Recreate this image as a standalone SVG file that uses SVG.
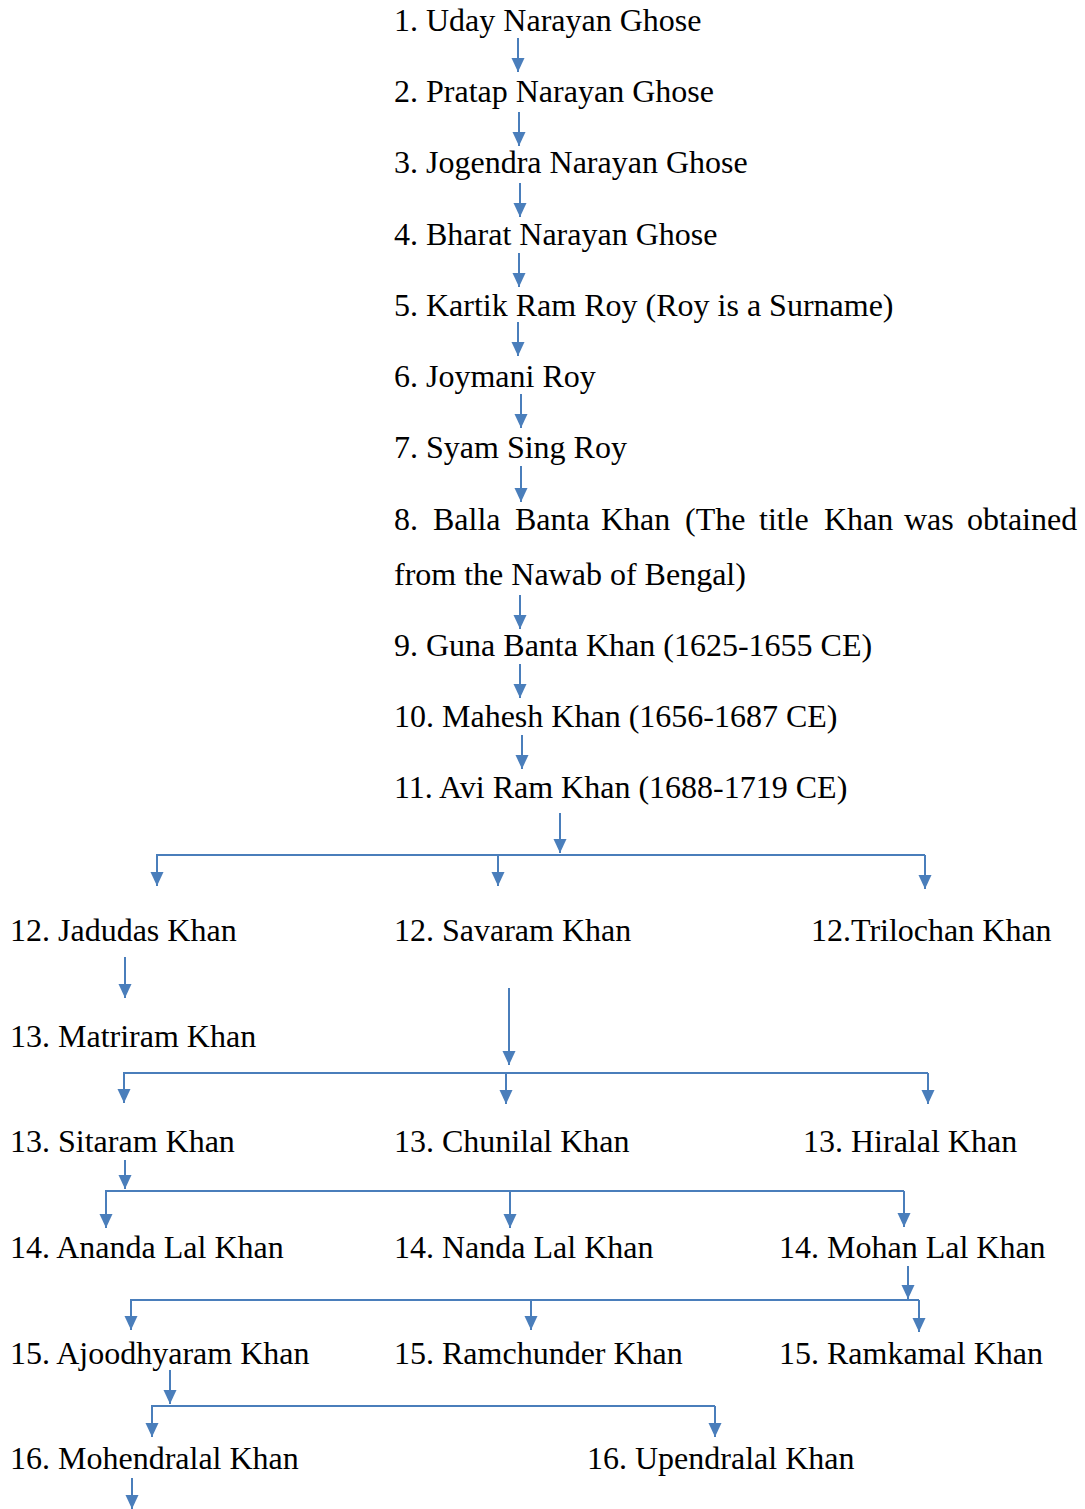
<svg xmlns="http://www.w3.org/2000/svg" width="1085" height="1509" viewBox="0 0 1085 1509">
<style>
text{font-family:"Liberation Serif","Times New Roman",serif;font-size:32px;fill:#000}
.c{stroke:#4a7ebb;stroke-width:2;fill:none}
.a{marker-end:url(#ah)}
</style>
<defs>
<marker id="ah" markerUnits="userSpaceOnUse" markerWidth="14" markerHeight="14" refX="14" refY="6.5" orient="auto">
<path d="M0,0 L14,6.5 L0,13 z" fill="#4a7ebb"/>
</marker>
</defs>
<rect width="1085" height="1509" fill="#fff"/>
<g id="connectors">
<path class="c a" d="M518,38 V72"/>
<path class="c a" d="M519,112 V146"/>
<path class="c a" d="M520,183 V217"/>
<path class="c a" d="M519,253 V287"/>
<path class="c a" d="M518,322 V356"/>
<path class="c a" d="M521,394 V428"/>
<path class="c a" d="M521,466 V502"/>
<path class="c a" d="M520,595 V629"/>
<path class="c a" d="M520,664 V698"/>
<path class="c a" d="M522,735 V769"/>
<path class="c a" d="M560,813 V853"/>
<path class="c" d="M156,855 H925"/>
<path class="c a" d="M157,855 V886"/>
<path class="c a" d="M498,855 V886"/>
<path class="c a" d="M925,855 V889"/>
<path class="c a" d="M125,957 V998"/>
<path class="c a" d="M509,988 V1065"/>
<path class="c" d="M123,1073 H928"/>
<path class="c a" d="M124,1073 V1103"/>
<path class="c a" d="M506,1073 V1104"/>
<path class="c a" d="M928,1073 V1104"/>
<path class="c a" d="M125,1160 V1189"/>
<path class="c" d="M105,1191 H904"/>
<path class="c a" d="M106,1191 V1228"/>
<path class="c a" d="M510,1191 V1228"/>
<path class="c a" d="M904,1191 V1227"/>
<path class="c a" d="M908,1266 V1299"/>
<path class="c" d="M130,1300 H919"/>
<path class="c a" d="M131,1300 V1330"/>
<path class="c a" d="M531,1300 V1330"/>
<path class="c a" d="M919,1300 V1332"/>
<path class="c a" d="M170,1370 V1404"/>
<path class="c" d="M151,1406 H715"/>
<path class="c a" d="M152,1406 V1437"/>
<path class="c a" d="M715,1406 V1437"/>
<path class="c a" d="M132,1478 V1509"/>
</g>
<g id="n1"><text x="394" y="31">1. Uday Narayan Ghose</text></g>
<g id="n2"><text x="394" y="102">2. Pratap Narayan Ghose</text></g>
<g id="n3"><text x="394" y="173">3. Jogendra Narayan Ghose</text></g>
<g id="n4"><text x="394" y="245">4. Bharat Narayan Ghose</text></g>
<g id="n5"><text x="394" y="316">5. Kartik Ram Roy (Roy is a Surname)</text></g>
<g id="n6"><text x="394" y="387">6. Joymani Roy</text></g>
<g id="n7"><text x="394" y="458">7. Syam Sing Roy</text></g>
<g id="n8">
<text y="530"><tspan x="394">8.</tspan><tspan x="433">Balla</tspan><tspan x="515">Banta</tspan><tspan x="601">Khan</tspan><tspan x="685">(The</tspan><tspan x="759">title</tspan><tspan x="824">Khan</tspan><tspan x="904">was</tspan><tspan x="967">obtained</tspan></text>
<text x="394" y="585">from the Nawab of Bengal)</text>
</g>
<g id="n9"><text x="394" y="656">9. Guna Banta Khan (1625-1655 CE)</text></g>
<g id="n10"><text x="394" y="727">10. Mahesh Khan (1656-1687 CE)</text></g>
<g id="n11"><text x="394" y="798">11. Avi Ram Khan (1688-1719 CE)</text></g>
<g id="n12a"><text x="10" y="941">12. Jadudas Khan</text></g>
<g id="n12b"><text x="394" y="941">12. Savaram Khan</text></g>
<g id="n12c"><text x="811" y="941">12.Trilochan Khan</text></g>
<g id="n13a"><text x="10" y="1047">13. Matriram Khan</text></g>
<g id="n13b"><text x="10" y="1152">13. Sitaram Khan</text></g>
<g id="n13c"><text x="394" y="1152">13. Chunilal Khan</text></g>
<g id="n13d"><text x="803" y="1152">13. Hiralal Khan</text></g>
<g id="n14a"><text x="10" y="1258">14. Ananda Lal Khan</text></g>
<g id="n14b"><text x="394" y="1258">14. Nanda Lal Khan</text></g>
<g id="n14c"><text x="779" y="1258">14. Mohan Lal Khan</text></g>
<g id="n15a"><text x="10" y="1364">15. Ajoodhyaram Khan</text></g>
<g id="n15b"><text x="394" y="1364">15. Ramchunder Khan</text></g>
<g id="n15c"><text x="779" y="1364">15. Ramkamal Khan</text></g>
<g id="n16a"><text x="10" y="1469">16. Mohendralal Khan</text></g>
<g id="n16b"><text x="587" y="1469">16. Upendralal Khan</text></g>
</svg>
